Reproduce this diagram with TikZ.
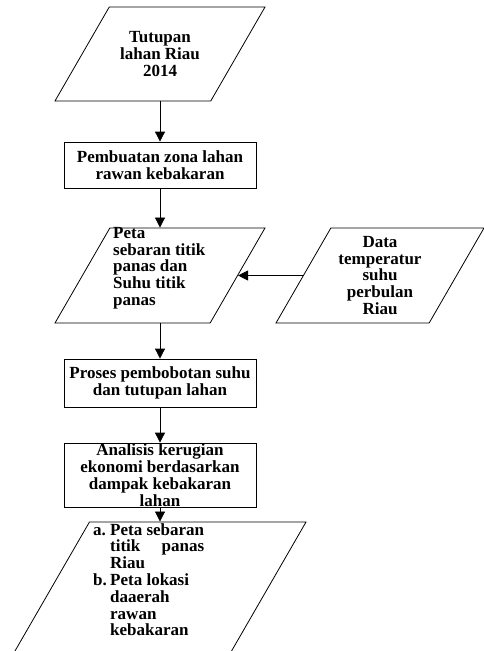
\documentclass[tikz,border=0pt]{standalone}
\usepackage{fontspec}
\setmainfont{Liberation Serif}
\usetikzlibrary{shapes.geometric,arrows.meta}
\begin{document}
\begin{tikzpicture}[x=1pt,y=-1pt,
		data/.style={draw, line width=0.8pt, trapezium, trapezium left angle=60, trapezium right angle=120, inner sep=0pt, text depth=0pt},
		proses/.style={draw, line width=0.8pt, rectangle, minimum width=192pt, inner sep=0pt, align=center},
		teks/.style={inner sep=0pt, font=\bfseries\fontsize{17}{16.8}\selectfont},
		panah/.style={-{Triangle[length=10pt,width=10pt]}, line width=0.8pt}]
		\useasboundingbox (0,0) rectangle (484,651);
		\clip (0,0) rectangle (484,651);
		
		\node[data, text width=101.5pt, text height=94pt] (tutupan) at (160,54) {};
		\node[teks, align=center] (tutupanteks) at (tutupan.center) {Tutupan\\lahan Riau\\2014};
		\node[proses, teks, minimum height=46pt] (buat) at (160,165) {Pembuatan zona lahan\\rawan kebakaran};
		\node[data, text width=100.3pt, text height=95pt] (peta) at (160,275.5) {};
		\node[teks, align=left, anchor=north west] (petateks) at (113,227) {Peta\\sebaran titik\\panas dan\\Suhu titik\\panas};
		\node[data, text width=98.3pt, text height=95pt] (suhu) at (380,275.5) {};
		\node[teks, align=center] (suhuteks) at (suhu.center) {Data\\temperatur\\suhu\\perbulan\\Riau};
		\node[proses, teks, minimum height=48pt] (bobot) at (160,383) {Proses pembobotan suhu\\dan tutupan lahan};
		\node[proses, minimum height=64pt] (analisis) at (160,475) {};
		\node[teks, align=center] (analisisteks) at (analisis.center) {Analisis kerugian\\ekonomi berdasarkan\\dampak kebakaran\\lahan};
		\node[data, text width=101.1pt, text height=200pt] (hasil) at (140,622) {};
		\node[teks, align=left, anchor=north west] (hasilteks) at (93,523) {\makebox[17pt][l]{a.}Peta sebaran\\\hspace*{17pt}\makebox[94pt][s]{titik panas}\\\hspace*{17pt}Riau\\\makebox[17pt][l]{b.}Peta lokasi\\\hspace*{17pt}daaerah\\\hspace*{17pt}rawan\\\hspace*{17pt}kebakaran};
		
		\draw[panah] (tutupan.center |- tutupan.south) -- (buat.north);
		\draw[panah] (buat.south) -- (peta.center |- peta.north);
		\draw[panah] (suhu.west) -- (peta.east);
		\draw[panah] (peta.center |- peta.south) -- (bobot.north);
		\draw[panah] (bobot.south) -- (analisis.north);
		\draw[panah] (analisis.south) -- (analisis.south |- hasil.north);
		
	\end{tikzpicture}
\end{document}
